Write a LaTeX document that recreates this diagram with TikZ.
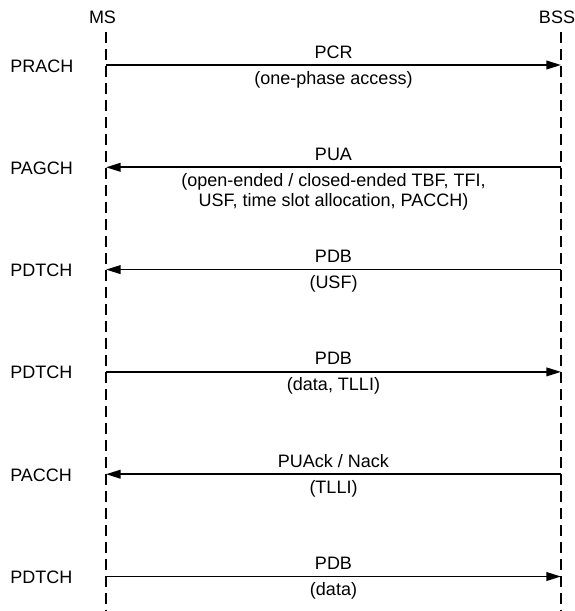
\documentclass[tikz,border=0pt]{standalone}
\usepackage{fontspec}
\setmainfont{Liberation Sans}
\usetikzlibrary{arrows.meta}

\begin{document}
\begin{tikzpicture}[x=0.75pt,y=-0.75pt,>={Triangle[length=11pt,width=6.5pt]},
  lifeline/.style={line width=1.4pt,dash pattern=on 8.25pt off 4.5pt},
  msg/.style={line width=1.3pt,->},
  lbl/.style={font=\fontsize{13.5}{15}\selectfont,inner sep=0pt,anchor=base,align=center},
  chan/.style={lbl,anchor=base west}]
  \useasboundingbox (0,0) rectangle (575,611);
  % entita' e linee di vita
  \node[lbl] (ms) at (102.5,23) {MS};
  \node[lbl] (bss) at (557,23) {BSS};
  \coordinate (ms top) at (106,32);
  \coordinate (ms end) at (106,611);
  \coordinate (bss top) at (561,32);
  \coordinate (bss end) at (561,611);
  \draw[lifeline] (ms top) -- (ms end);
  \draw[lifeline] (bss top) -- (bss end);
  % PCR (accesso)
  \coordinate (ms1) at (106,65);
  \coordinate (bss1) at (561,65);
  \draw[msg] (ms1) -- (bss1);
  \node[chan] (ch1) at (10,72) {PRACH};
  \node[lbl] (pcr) at (333.5,58) {PCR};
  \node[lbl] (pcr info) at (333.5,84) {(one-phase access)};
  % PUA
  \coordinate (ms2) at (106,167.3);
  \coordinate (bss2) at (561,167.3);
  \draw[msg] (bss2) -- (ms2);
  \node[chan] (ch2) at (10,174.3) {PAGCH};
  \node[lbl] (pua) at (333.5,160.3) {PUA};
  % base = ultima riga
  \node[lbl] (pua info) at (333.5,206.3) {(open-ended / closed-ended TBF, TFI,\\USF, time slot allocation, PACCH)};
  % PDB con USF
  \coordinate (ms3) at (106,269.6);
  \coordinate (bss3) at (561,269.6);
  \draw[msg] (bss3) -- (ms3);
  \node[chan] (ch3) at (10,276.6) {PDTCH};
  \node[lbl] (pdb1) at (333.5,262.6) {PDB};
  \node[lbl] (pdb1 info) at (333.5,288.6) {(USF)};
  % PDB con dati
  \coordinate (ms4) at (106,371.9);
  \coordinate (bss4) at (561,371.9);
  \draw[msg] (ms4) -- (bss4);
  \node[chan] (ch4) at (10,378.9) {PDTCH};
  \node[lbl] (pdb2) at (333.5,364.9) {PDB};
  \node[lbl] (pdb2 info) at (333.5,390.9) {(data, TLLI)};
  % PUAck / Nack
  \coordinate (ms5) at (106,474.2);
  \coordinate (bss5) at (561,474.2);
  \draw[msg] (bss5) -- (ms5);
  \node[chan] (ch5) at (10,481.2) {PACCH};
  \node[lbl] (ack) at (333.5,467.2) {PUAck / Nack};
  \node[lbl] (ack info) at (333.5,493.2) {(TLLI)};
  % PDB finale
  \coordinate (ms6) at (106,576.5);
  \coordinate (bss6) at (561,576.5);
  \draw[msg] (ms6) -- (bss6);
  \node[chan] (ch6) at (10,583.5) {PDTCH};
  \node[lbl] (pdb3) at (333.5,569.5) {PDB};
  \node[lbl] (pdb3 info) at (333.5,595.5) {(data)};
\end{tikzpicture}
\end{document}
